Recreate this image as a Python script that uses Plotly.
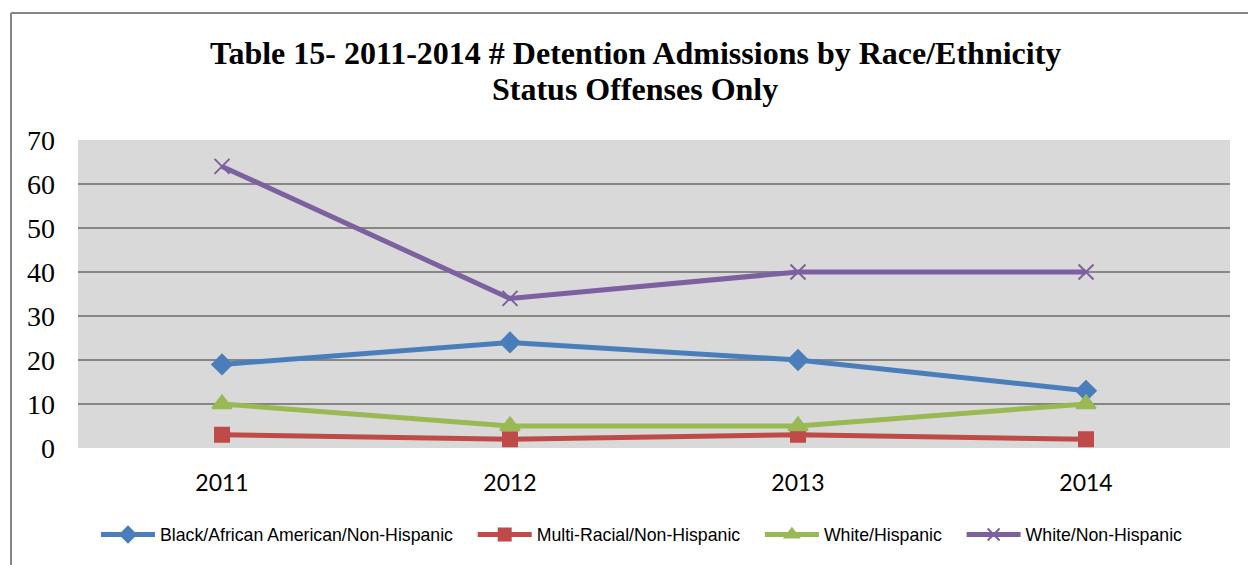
import plotly.graph_objects as go

# Detention admissions, status offenses only, by race/ethnicity
years = ["2011", "2012", "2013", "2014"]
black_non_hispanic = [19, 24, 20, 13]
multi_racial_non_hispanic = [3, 2, 3, 2]
white_hispanic = [10, 5, 5, 10]
white_non_hispanic = [64, 34, 40, 40]

title_lines = [
    "Table 15- 2011-2014 # Detention Admissions by Race/Ethnicity",
    "Status Offenses Only",
]

series = [
    ("Black/African American/Non-Hispanic", black_non_hispanic, "#4a7ebb", "diamond", 15),
    ("Multi-Racial/Non-Hispanic", multi_racial_non_hispanic, "#be4b48", "square", 14),
    ("White/Hispanic", white_hispanic, "#98b954", "triangle-up", 17),
    ("White/Non-Hispanic", white_non_hispanic, "#7d60a0", "x-thin-open", 15),
]

SERIF = "Liberation Serif, Times New Roman, Times, serif"
LEGEND_PAD = "\u00a0" * 3  # extra room between legend entries

fig = go.Figure()
for name, vals, color, symbol, size in series:
    fig.add_trace(go.Scatter(
        x=years, y=vals, name=name + LEGEND_PAD, mode="lines+markers",
        line=dict(color=color, width=5),
        marker=dict(symbol=symbol, size=size, color=color,
                    line=dict(color=color, width=2)),
    ))

W, H = 1248, 565
L, R, T, B = 78, 18, 140, 117
pw, ph = W - L - R, H - T - B


def px_x(p):
    return (p - L) / pw


def px_y(p):
    return (H - B - p) / ph


# outer chart frame (top and left edges)
frame = dict(type="line", xref="paper", yref="paper",
             line=dict(color="#868686", width=2), layer="above")
fig.add_shape(**frame, x0=px_x(11), x1=px_x(W + 5), y0=px_y(13), y1=px_y(13))
fig.add_shape(**frame, x0=px_x(11), x1=px_x(11), y0=px_y(13), y1=px_y(H + 5))

# two-line bold title
for text, ypix in zip(title_lines, [53, 89]):
    fig.add_annotation(
        text=text, showarrow=False,
        xref="paper", yref="paper", x=px_x(635), y=px_y(ypix),
        xanchor="center", yanchor="middle",
        font=dict(family=SERIF, size=32, color="black", weight="bold"),
    )

fig.update_layout(
    width=W, height=H,
    margin=dict(l=L, r=R, t=T, b=B),
    paper_bgcolor="white",
    plot_bgcolor="#d9d9d9",
    xaxis=dict(
        type="category", range=[-0.5, 3.5],
        showgrid=False, zeroline=False, showline=False, ticks="",
        tickfont=dict(family="Lato, sans-serif", size=23, color="black"),
        ticklabelstandoff=19,
    ),
    yaxis=dict(
        range=[0, 70], dtick=10,
        showgrid=True, gridcolor="#868686", gridwidth=2,
        zeroline=False, showline=False, ticks="",
        tickfont=dict(family=SERIF, size=28, color="black"),
        ticklabelstandoff=22,
    ),
    showlegend=True,
    legend=dict(
        orientation="h", x=96 / W, xref="container", xanchor="left",
        y=1 - 535 / H, yref="container", yanchor="middle",
        font=dict(family="Liberation Sans, Arial, sans-serif", size=17.7, color="black"),
        itemwidth=54, itemsizing="constant", bgcolor="rgba(0,0,0,0)",
    ),
)

fig.write_html("out.html")
